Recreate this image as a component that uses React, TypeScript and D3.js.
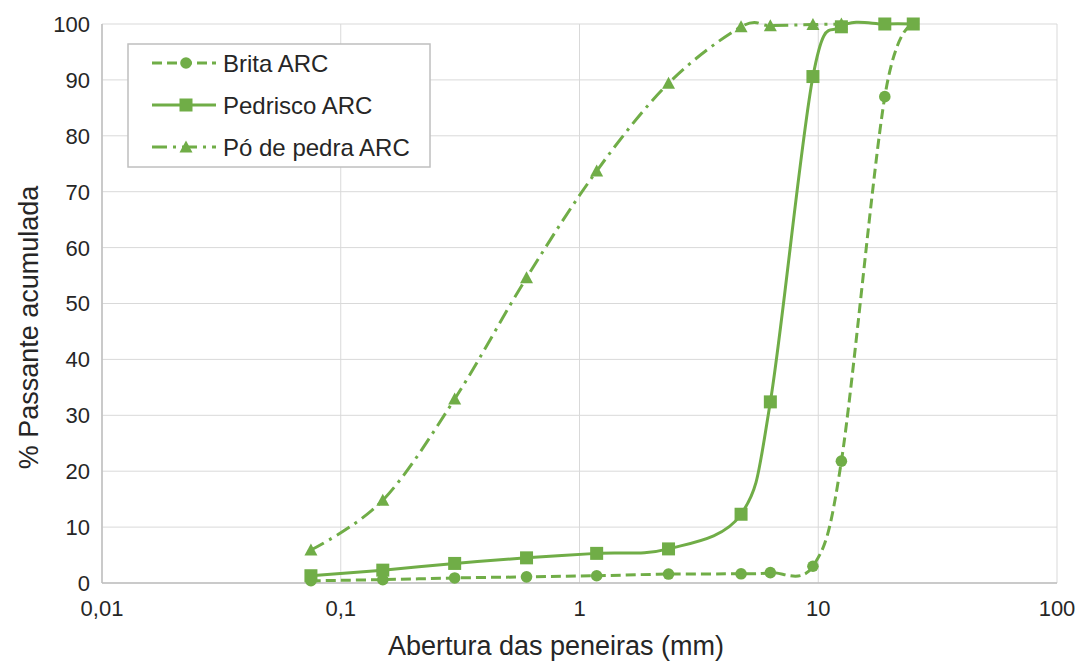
import React from "react";
import * as d3 from "d3";

const sieves = [0.075, 0.15, 0.3, 0.6, 1.18, 2.36, 4.75, 6.3, 9.5, 12.5, 19, 25];
const britaValues = [0.4, 0.6, 0.9, 1.1, 1.3, 1.6, 1.65, 1.85, 3.0, 21.8, 87.0, 100];
const pedriscoValues = [1.3, 2.3, 3.5, 4.5, 5.3, 6.1, 12.3, 32.4, 90.6, 99.5, 100, 100];
const poSieves = [0.075, 0.15, 0.3, 0.6, 1.18, 2.36, 4.75, 6.3, 9.5, 12.5];
const poValues = [5.9, 14.8, 32.9, 54.6, 73.7, 89.4, 99.5, 99.7, 99.9, 100];

const xTicks = [0.01, 0.1, 1, 10, 100];
const xTickLabels = ["0,01", "0,1", "1", "10", "100"];
const yTicks = [0, 10, 20, 30, 40, 50, 60, 70, 80, 90, 100];
const seriesNames = ["Brita ARC", "Pedrisco ARC", "Pó de pedra ARC"];

const W = 1085;
const H = 661;
const M = { left: 102, right: 1057, top: 24, bottom: 583 };
const GREEN = "#70AD47";
const FONT = "'Liberation Sans', Arial, sans-serif";

function Marker({ type, x, y }: { type: string; x: number; y: number }) {
  if (type === "circle") return <circle cx={x} cy={y} r={5.8} fill={GREEN} />;
  if (type === "square") return <rect x={x - 6.5} y={y - 6.5} width={13} height={13} fill={GREEN} />;
  const s = 13;
  const h = 11;
  return (
    <path
      d={`M${x},${y - h / 2 - 1}L${x + s / 2},${y + h / 2}L${x - s / 2},${y + h / 2}Z`}
      fill={GREEN}
    />
  );
}

export default function App() {
  const x = d3.scaleLog().domain([0.01, 100]).range([M.left, M.right]);
  const y = d3.scaleLinear().domain([0, 100]).range([M.bottom, M.top]);

  const line = d3
    .line<[number, number]>()
    .x((d) => x(d[0]))
    .y((d) => y(d[1]))
    .curve(d3.curveCardinal.tension(0));

  const series = [
    { name: seriesNames[0], xs: sieves, ys: britaValues, marker: "circle", dash: "10,5" },
    { name: seriesNames[1], xs: sieves, ys: pedriscoValues, marker: "square", dash: "" },
    { name: seriesNames[2], xs: poSieves, ys: poValues, marker: "triangle", dash: "15,6,3,6" },
  ];

  const legendY = [63, 105, 147];

  return (
    <svg width={W} height={H} style={{ position: "absolute", left: 0, top: 0, background: "#fff" }}>
      <rect x={0} y={0} width={W} height={H} fill="#fff" />
      {/* gridlines */}
      {yTicks.map((t) => (
        <line key={"gy" + t} x1={M.left} x2={M.right} y1={y(t)} y2={y(t)} stroke="#D9D9D9" strokeWidth={1} />
      ))}
      {xTicks.map((t) => (
        <line key={"gx" + t} x1={x(t)} x2={x(t)} y1={M.top} y2={M.bottom} stroke="#D9D9D9" strokeWidth={1} />
      ))}
      <line x1={M.left} x2={M.left} y1={M.top} y2={M.bottom} stroke="#BFBFBF" strokeWidth={1.5} />
      <line x1={M.left} x2={M.right} y1={M.bottom} y2={M.bottom} stroke="#BFBFBF" strokeWidth={1.5} />

      {/* tick labels */}
      {yTicks.map((t) => (
        <text key={"ty" + t} x={90} y={y(t)} dy="0.36em" textAnchor="end" fontFamily={FONT} fontSize={22} fill="#262626">
          {t}
        </text>
      ))}
      {xTicks.map((t, i) => (
        <text key={"tx" + t} x={x(t)} y={616} textAnchor="middle" fontFamily={FONT} fontSize={22} fill="#262626">
          {xTickLabels[i]}
        </text>
      ))}

      {/* axis titles */}
      <text x={556} y={655} textAnchor="middle" fontFamily={FONT} fontSize={27} fill="#262626">
        Abertura das peneiras (mm)
      </text>
      <text
        transform={`translate(38,${(M.top + M.bottom) / 2 + 24}) rotate(-90)`}
        textAnchor="middle"
        fontFamily={FONT}
        fontSize={27}
        fill="#262626"
      >
        % Passante acumulada
      </text>

      {/* series */}
      {series.map((s) => {
        const pts: [number, number][] = s.xs.map((v, i) => [v, s.ys[i]]);
        return (
          <g key={s.name}>
            <path d={line(pts) || ""} fill="none" stroke={GREEN} strokeWidth={3} strokeDasharray={s.dash || undefined} />
            {pts.map((p, i) => (
              <Marker key={i} type={s.marker} x={x(p[0])} y={y(p[1])} />
            ))}
          </g>
        );
      })}

      {/* legend */}
      <rect x={128} y={44} width={302} height={123} fill="#fff" stroke="#BFBFBF" strokeWidth={1.5} />
      {series.map((s, i) => (
        <g key={"lg" + s.name}>
          <line x1={152} x2={216} y1={legendY[i]} y2={legendY[i]} stroke={GREEN} strokeWidth={3} strokeDasharray={s.dash || undefined} />
          <Marker type={s.marker} x={186} y={legendY[i]} />
          <text x={223} y={legendY[i]} dy="0.36em" fontFamily={FONT} fontSize={24} fill="#262626">
            {s.name}
          </text>
        </g>
      ))}
    </svg>
  );
}
